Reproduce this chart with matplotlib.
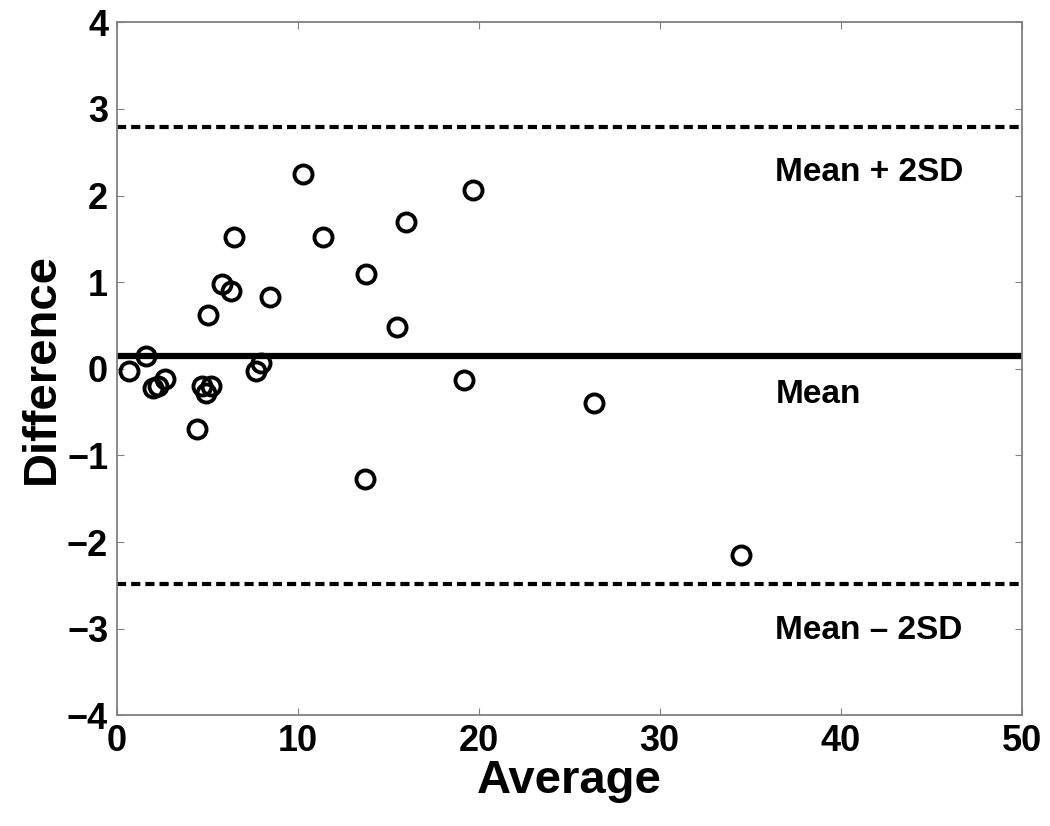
import numpy as np
import matplotlib
matplotlib.use('Agg')
import matplotlib.pyplot as plt

# Bland-Altman style data
avg = [0.7, 1.6, 2.0, 2.3, 2.7, 4.45, 4.7, 4.95, 5.2, 5.05, 5.8, 6.3, 6.5,
       7.7, 8.0, 8.5, 10.3, 11.4, 13.7, 13.8, 15.5, 16.0, 19.2, 19.7, 26.4, 34.5]
diff = [-0.03, 0.15, -0.22, -0.2, -0.12, -0.69, -0.2, -0.28, -0.2, 0.62, 0.98, 0.9, 1.52,
        -0.02, 0.07, 0.83, 2.25, 1.52, -1.27, 1.1, 0.48, 1.69, -0.13, 2.06, -0.39, -2.15]

mean_line = 0.15
upper_line = 2.79
lower_line = -2.48

plt.rcParams['font.family'] = ['Liberation Sans', 'DejaVu Sans']
plt.rcParams['font.weight'] = 'bold'

fig = plt.figure(figsize=(10.5, 8.26), dpi=100)
ax = fig.add_axes([0.111, 0.134, 0.862, 0.839])

ax.plot(avg, diff, 'o', mfc='none', mec='black', ms=13, mew=2.8, zorder=3)
ax.axhline(mean_line, color='black', lw=4.5)
ax.axhline(upper_line, color='black', lw=3, ls=(0, (2.2, 1.2)))
ax.axhline(lower_line, color='black', lw=3, ls=(0, (2.2, 1.2)))

ax.text(36.4, 2.27, 'Mean + 2SD', fontsize=24, fontweight='bold', va='center')
ax.text(36.4, -0.3, 'Mean', fontsize=24, fontweight='bold', va='center')
ax.text(36.4, -3.02, 'Mean \u2013 2SD', fontsize=24, fontweight='bold', va='center')

ax.set_xlim(0, 50)
ax.set_ylim(-4, 4)
ax.set_xticks([0, 10, 20, 30, 40, 50])
ax.set_yticks(range(-4, 5))
ax.set_yticklabels(['\u22124', '\u22123', '\u22122', '\u22121', '0', '1', '2', '3', '4'])
ax.tick_params(direction='in', top=True, right=True, length=5, color='gray',
               labelsize=26, pad=6)
for lab in ax.get_xticklabels() + ax.get_yticklabels():
    lab.set_fontweight('bold')
for s in ax.spines.values():
    s.set_color('gray')
    s.set_linewidth(1.3)

ax.set_xlabel('Average', fontsize=34, fontweight='bold', labelpad=0)
ax.set_ylabel('Difference', fontsize=34, fontweight='bold', labelpad=2)

fig.savefig('out.png', dpi=100)
